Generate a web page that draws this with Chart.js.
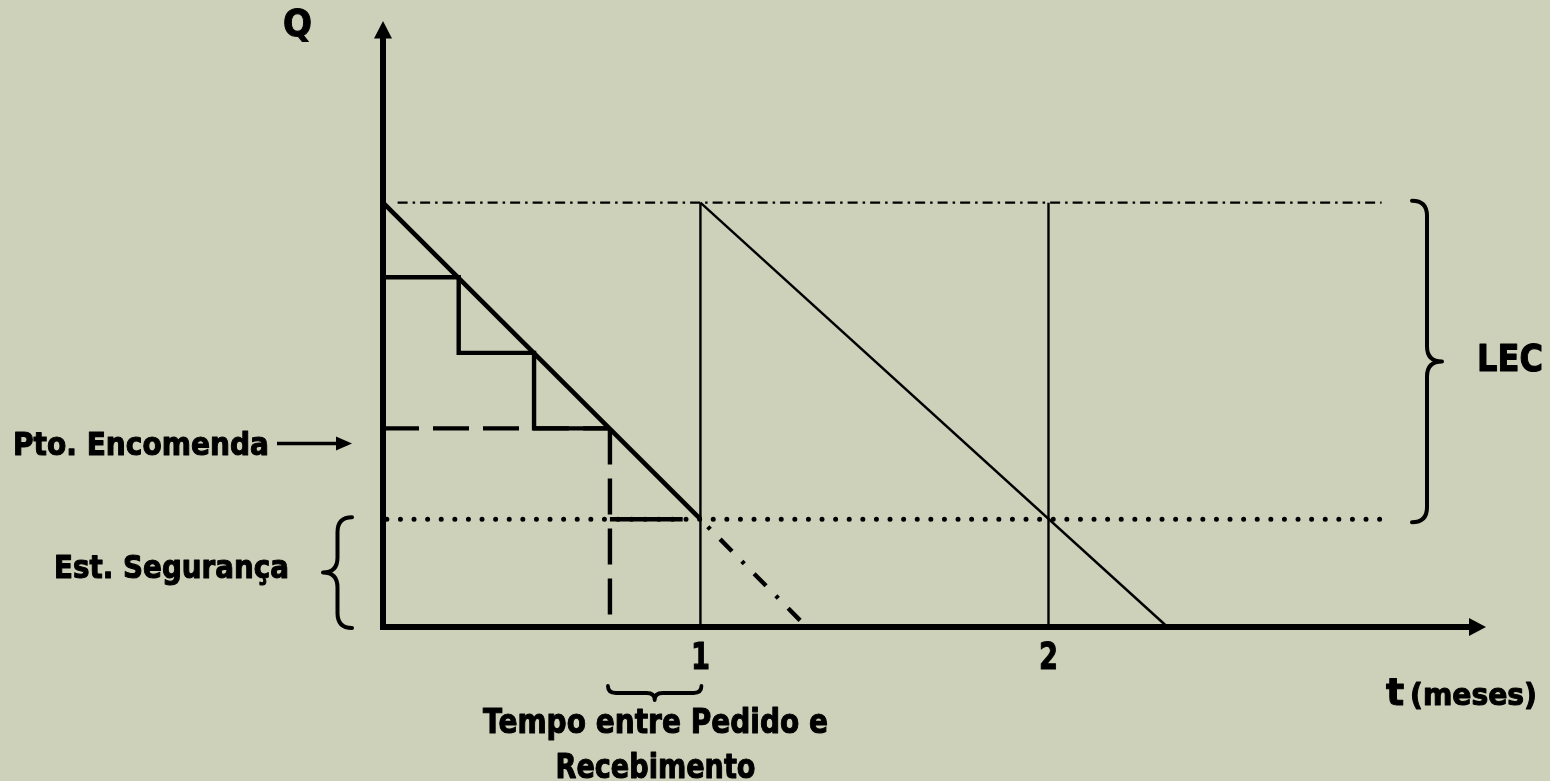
<!DOCTYPE html>
<html>
<head>
<meta charset="utf-8">
<script src="https://cdn.jsdelivr.net/npm/chart.js@4.4.0/dist/chart.umd.min.js"></script>
<style>
  html, body { margin: 0; padding: 0; background: #CDD1BA; }
  canvas { display: block; }
</style>
</head>
<body>
<canvas id="c" width="1550" height="781" style="width:1550px;height:781px"></canvas>
<script>
// ---- data (t in months, Q in % of the order peak) ----
const tStart = 0.088;            // where the Q axis sits on the t scale
const tAxisEnd = 3.257;          // t at the tip of the t axis arrow
const qAxisEnd = 142.8;          // Q at the tip of the Q axis arrow
const tickValues = [1, 2];
const tickLabels = ['1', '2'];
const qMax = 100;                // top of the cycle (LEC + safety)
const safetyStock = 25.4;
const reorderPoint = 46.8;
const stepLevels = [82.4, 64.6, 46.8];
const stepTimes = [0.3055, 0.522, 0.740];
const lastStepEnd = 0.949;
const cycleStarts = [1, 2];      // replenishment instants
const firstStockout = 1.305;     // dash-dot continuation reaching Q = 0
const secondZero = 2.342;        // second thin line reaching Q = 0
const topLineSpan = [0.130, 2.957];
const ssLineSpan = [0.099, 2.987];

const BLACK = '#000000';

// stairs built from the step arrays
const stairs = [{x: tStart, y: stepLevels[0]}];
for (let i = 0; i < stepTimes.length; i++) {
  stairs.push({x: stepTimes[i], y: stepLevels[i]});
  if (i + 1 < stepLevels.length) stairs.push({x: stepTimes[i], y: stepLevels[i + 1]});
}

function ds(data, width, extra) {
  return Object.assign({
    data, showLine: true, borderColor: BLACK, backgroundColor: BLACK,
    borderWidth: width, pointRadius: 0, pointHoverRadius: 0, tension: 0,
    borderCapStyle: 'butt', borderJoinStyle: 'miter', fill: false, clip: false
  }, extra || {});
}

const datasets = [
  // dash-dot top (LEC) line
  ds([{x: topLineSpan[0], y: qMax}, {x: topLineSpan[1], y: qMax}], 2.2, {borderDash: [10, 5, 2.5, 5]}),
  // dotted safety stock line
  ds([{x: ssLineSpan[0], y: safetyStock}, {x: ssLineSpan[1], y: safetyStock}], 5, {borderDash: [0, 13.6], borderCapStyle: 'round'}),
  // vertical lines at t = 1 and t = 2
  ds([{x: cycleStarts[0], y: qMax}, {x: cycleStarts[0], y: 0}], 2.4),
  ds([{x: cycleStarts[1], y: qMax}, {x: cycleStarts[1], y: 0}], 2.4),
  // second consumption line (thin)
  ds([{x: cycleStarts[0], y: qMax}, {x: secondZero, y: 0}], 2.4),
  // first consumption line (thick)
  ds([{x: tStart, y: qMax}, {x: cycleStarts[0], y: safetyStock}], 4.6),
  // stairs
  ds(stairs, 4.4),
  ds([{x: stepTimes[2], y: safetyStock}, {x: lastStepEnd, y: safetyStock}], 4.4),
  // dashed reorder point line and lead-time vertical
  ds([{x: tStart, y: reorderPoint}, {x: stepTimes[2], y: reorderPoint}], 4.4, {borderDash: [36, 14]}),
  ds([{x: stepTimes[2], y: reorderPoint}, {x: stepTimes[2], y: 0}], 4.4, {borderDash: [36, 14]}),
  // dash-dot continuation into the safety stock
  ds([{x: cycleStarts[0], y: safetyStock}, {x: firstStockout, y: 0}], 4.4, {borderDash: [3.5, 14, 17, 14], borderDashOffset: 38})
];

const FONT = '"DejaVu Sans", Verdana, sans-serif';

function text(ctx, str, x, y, size, width, align) {
  ctx.save();
  ctx.font = 'bold ' + size + 'px ' + FONT;
  ctx.textBaseline = 'alphabetic';
  ctx.textAlign = 'left';
  const w = ctx.measureText(str).width;
  const sx = width ? width / w : 1;
  const realW = w * sx;
  let left = x;
  if (align === 'center') left = x - realW / 2;
  else if (align === 'right') left = x - realW;
  ctx.translate(left, y);
  ctx.scale(sx, 1);
  ctx.fillStyle = BLACK;
  ctx.strokeStyle = BLACK;
  ctx.lineWidth = 1.1;
  ctx.lineJoin = 'round';
  ctx.fillText(str, 0, 0);
  ctx.strokeText(str, 0, 0);
  ctx.restore();
}

function braceV(ctx, x, y1, y2, depth, dir) {
  // vertical brace, ends at x, tip at x + dir*depth
  const xs = x + dir * depth / 2, xt = x + dir * depth, ym = (y1 + y2) / 2, r = Math.min(15, (y2 - y1) / 4);
  ctx.beginPath();
  ctx.moveTo(x, y1);
  ctx.quadraticCurveTo(xs, y1, xs, y1 + r);
  ctx.lineTo(xs, ym - r);
  ctx.quadraticCurveTo(xs, ym, xt, ym);
  ctx.quadraticCurveTo(xs, ym, xs, ym + r);
  ctx.lineTo(xs, y2 - r);
  ctx.quadraticCurveTo(xs, y2, x, y2);
  ctx.stroke();
}
function braceH(ctx, x1, x2, y, depth) {
  const ys = y + depth / 2, yt = y + depth, xm = (x1 + x2) / 2, r = 8;
  ctx.beginPath();
  ctx.moveTo(x1, y);
  ctx.quadraticCurveTo(x1, ys, x1 + r, ys);
  ctx.lineTo(xm - r, ys);
  ctx.quadraticCurveTo(xm, ys, xm, yt);
  ctx.quadraticCurveTo(xm, ys, xm + r, ys);
  ctx.lineTo(x2 - r, ys);
  ctx.quadraticCurveTo(x2, ys, x2, y);
  ctx.stroke();
}

const decor = {
  id: 'decor',
  beforeDraw(chart) {
    const ctx = chart.ctx;
    ctx.save();
    ctx.fillStyle = '#CDD1BA';
    ctx.fillRect(0, 0, chart.width, chart.height);
    ctx.restore();
  },
  afterDatasetsDraw(chart) {
    const ctx = chart.ctx;
    const xs = chart.scales.x, ys = chart.scales.y;
    const X0 = xs.getPixelForValue(tStart), Y0 = ys.getPixelForValue(0);
    const XT = xs.getPixelForValue(tAxisEnd), YT = ys.getPixelForValue(qAxisEnd);
    ctx.save();
    ctx.fillStyle = BLACK; ctx.strokeStyle = BLACK;
    // axes
    ctx.lineWidth = 6; ctx.lineCap = 'butt';
    ctx.beginPath();
    ctx.moveTo(X0, Y0 + 3); ctx.lineTo(X0, YT + 17);
    ctx.moveTo(X0 - 3, Y0); ctx.lineTo(XT - 17, Y0);
    ctx.stroke();
    // arrow heads
    ctx.beginPath();
    ctx.moveTo(X0, YT); ctx.lineTo(X0 - 9, YT + 17.5); ctx.lineTo(X0 + 9, YT + 17.5); ctx.closePath();
    ctx.fill();
    ctx.beginPath();
    ctx.moveTo(XT, Y0); ctx.lineTo(XT - 17, Y0 - 9); ctx.lineTo(XT - 17, Y0 + 9); ctx.closePath();
    ctx.fill();

    // tick labels
    tickValues.forEach((v, i) => {
      text(ctx, tickLabels[i], xs.getPixelForValue(v), 669, 37, 19, 'center');
    });
    // axis titles
    text(ctx, 'Q', 283, 36, 37, 29, 'left');
    text(ctx, 't', 1386, 705, 38, null, 'left');
    text(ctx, '(meses)', 1410, 705, 30, 127, 'left');
    // LEC brace and label
    ctx.lineWidth = 4; ctx.lineCap = 'round'; ctx.lineJoin = 'round';
    braceV(ctx, 1412, ys.getPixelForValue(qMax) - 2, ys.getPixelForValue(safetyStock) + 3, 30, 1);
    text(ctx, 'LEC', 1477, 371, 37, 66, 'left');
    // safety stock brace and label
    ctx.lineWidth = 4;
    braceV(ctx, 352, ys.getPixelForValue(safetyStock) - 2, Y0 + 1, 29, -1);
    text(ctx, 'Est. Segurança', 54, 578, 32, 235, 'left');
    // reorder point label + arrow
    text(ctx, 'Pto. Encomenda', 13, 455, 32, 256, 'left');
    ctx.lineWidth = 3.5; ctx.lineCap = 'butt';
    ctx.beginPath(); ctx.moveTo(277, 443.5); ctx.lineTo(340, 443.5); ctx.stroke();
    ctx.beginPath(); ctx.moveTo(352, 443.5); ctx.lineTo(336, 436.5); ctx.lineTo(336, 450.5); ctx.closePath(); ctx.fill();
    // lead time brace and label
    ctx.lineWidth = 3.8; ctx.lineCap = 'round';
    braceH(ctx, xs.getPixelForValue(stepTimes[2]) - 2, xs.getPixelForValue(cycleStarts[0]) + 1, 686, 14);
    text(ctx, 'Tempo entre Pedido e', 655.5, 733, 34, 345, 'center');
    text(ctx, 'Recebimento', 655.5, 778, 34, 200, 'center');
    ctx.restore();
  }
};

new Chart(document.getElementById('c'), {
  type: 'scatter',
  data: { datasets },
  options: {
    responsive: false,
    maintainAspectRatio: false,
    devicePixelRatio: 1,
    animation: false,
    events: [],
    layout: { padding: { left: 383, right: 64, top: 21, bottom: 154 } },
    scales: {
      x: { type: 'linear', display: false, min: tStart, max: tAxisEnd },
      y: { type: 'linear', display: false, min: 0, max: qAxisEnd }
    },
    plugins: { legend: { display: false }, tooltip: { enabled: false } }
  },
  plugins: [decor]
});
</script>
</body>
</html>
